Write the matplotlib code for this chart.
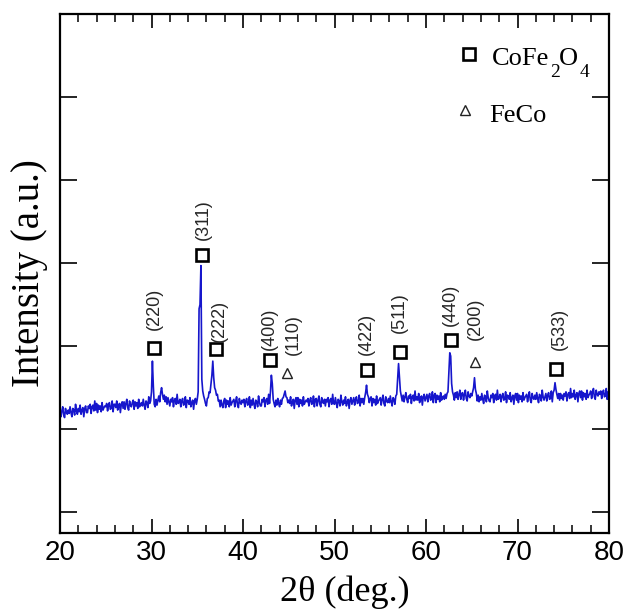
import numpy as np
import matplotlib
matplotlib.use("Agg")
import matplotlib.pyplot as plt

# ---------------- data ----------------
# XRD scan, 2theta from 20.0 to 80.0 deg in 0.1 deg steps
scan_rows = [
    [2.24, 2.15, 2.22, 2.27, 2.17, 2.14, 2.25, 2.20, 2.18, 2.23],  # 20
    [2.19, 2.27, 2.20, 2.15, 2.25, 2.23, 2.17, 2.30, 2.22, 2.18],  # 21
    [2.25, 2.21, 2.29, 2.18, 2.23, 2.26, 2.15, 2.25, 2.28, 2.20],  # 22
    [2.20, 2.28, 2.25, 2.30, 2.19, 2.27, 2.29, 2.22, 2.34, 2.23],  # 23
    [2.31, 2.20, 2.29, 2.24, 2.28, 2.21, 2.32, 2.23, 2.26, 2.28],  # 24
    [2.27, 2.31, 2.22, 2.29, 2.32, 2.24, 2.25, 2.34, 2.21, 2.30],  # 25
    [2.30, 2.26, 2.34, 2.23, 2.28, 2.31, 2.20, 2.30, 2.33, 2.25],  # 26
    [2.33, 2.24, 2.31, 2.36, 2.26, 2.23, 2.34, 2.29, 2.27, 2.32],  # 27
    [2.35, 2.24, 2.33, 2.28, 2.32, 2.25, 2.36, 2.27, 2.30, 2.32],  # 28
    [2.28, 2.36, 2.29, 2.24, 2.34, 2.32, 2.26, 2.39, 2.31, 2.34],  # 29
    [2.45, 2.82, 2.52, 2.30, 2.27, 2.36, 2.29, 2.35, 2.40, 2.33],  # 30
    [2.44, 2.50, 2.42, 2.36, 2.41, 2.33, 2.39, 2.30, 2.38, 2.33],  # 31
    [2.28, 2.36, 2.33, 2.38, 2.27, 2.35, 2.37, 2.30, 2.42, 2.31],  # 32
    [2.32, 2.36, 2.27, 2.34, 2.37, 2.29, 2.30, 2.39, 2.26, 2.35],  # 33
    [2.34, 2.30, 2.38, 2.27, 2.32, 2.35, 2.24, 2.34, 2.37, 2.30],  # 34
    [2.36, 2.45, 3.45, 3.50, 3.97, 2.60, 2.46, 2.40, 2.36, 2.31],  # 35
    [2.28, 2.37, 2.38, 2.45, 2.44, 2.54, 2.65, 2.82, 2.62, 2.50],  # 36
    [2.47, 2.41, 2.42, 2.34, 2.35, 2.27, 2.35, 2.29, 2.26, 2.34],  # 37
    [2.37, 2.26, 2.35, 2.30, 2.34, 2.27, 2.38, 2.29, 2.32, 2.34],  # 38
    [2.36, 2.27, 2.34, 2.39, 2.29, 2.26, 2.37, 2.32, 2.30, 2.35],  # 39
    [2.32, 2.36, 2.27, 2.34, 2.37, 2.29, 2.30, 2.39, 2.26, 2.35],  # 40
    [2.29, 2.37, 2.30, 2.25, 2.35, 2.33, 2.27, 2.40, 2.32, 2.28],  # 41
    [2.28, 2.36, 2.33, 2.38, 2.27, 2.35, 2.37, 2.30, 2.42, 2.31],  # 42
    [2.45, 2.65, 2.55, 2.36, 2.31, 2.27, 2.35, 2.29, 2.37, 2.31],  # 43
    [2.27, 2.35, 2.30, 2.37, 2.38, 2.42, 2.46, 2.39, 2.38, 2.32],  # 44
    [2.35, 2.31, 2.39, 2.28, 2.33, 2.36, 2.25, 2.35, 2.38, 2.30],  # 45
    [2.38, 2.27, 2.36, 2.31, 2.35, 2.28, 2.39, 2.30, 2.33, 2.35],  # 46
    [2.33, 2.37, 2.28, 2.35, 2.38, 2.30, 2.31, 2.40, 2.27, 2.36],  # 47
    [2.37, 2.28, 2.35, 2.40, 2.30, 2.27, 2.38, 2.33, 2.31, 2.36],  # 48
    [2.28, 2.36, 2.33, 2.38, 2.27, 2.35, 2.37, 2.30, 2.42, 2.31],  # 49
    [2.30, 2.38, 2.31, 2.26, 2.36, 2.34, 2.28, 2.41, 2.33, 2.29],  # 50
    [2.35, 2.31, 2.39, 2.28, 2.33, 2.36, 2.25, 2.35, 2.38, 2.30],  # 51
    [2.34, 2.38, 2.29, 2.36, 2.39, 2.31, 2.32, 2.41, 2.28, 2.37],  # 52
    [2.32, 2.37, 2.30, 2.38, 2.44, 2.53, 2.42, 2.39, 2.32, 2.37],  # 53
    [2.39, 2.28, 2.37, 2.32, 2.36, 2.29, 2.40, 2.31, 2.34, 2.36],  # 54
    [2.38, 2.29, 2.36, 2.41, 2.31, 2.28, 2.39, 2.34, 2.32, 2.37],  # 55
    [2.32, 2.40, 2.33, 2.28, 2.38, 2.36, 2.30, 2.40, 2.42, 2.60],  # 56
    [2.79, 2.62, 2.46, 2.40, 2.34, 2.41, 2.33, 2.39, 2.44, 2.36],  # 57
    [2.32, 2.40, 2.37, 2.42, 2.31, 2.39, 2.41, 2.34, 2.46, 2.35],  # 58
    [2.39, 2.35, 2.43, 2.32, 2.37, 2.40, 2.29, 2.39, 2.42, 2.34],  # 59
    [2.38, 2.42, 2.33, 2.40, 2.43, 2.35, 2.36, 2.45, 2.32, 2.41],  # 60
    [2.43, 2.32, 2.41, 2.36, 2.40, 2.33, 2.44, 2.35, 2.38, 2.40],  # 61
    [2.36, 2.42, 2.37, 2.43, 2.45, 2.70, 2.92, 2.88, 2.55, 2.45],  # 62
    [2.41, 2.35, 2.44, 2.38, 2.45, 2.36, 2.42, 2.47, 2.36, 2.43],  # 63
    [2.44, 2.35, 2.42, 2.47, 2.37, 2.34, 2.45, 2.40, 2.38, 2.43],  # 64
    [2.40, 2.45, 2.50, 2.62, 2.48, 2.43, 2.34, 2.41, 2.33, 2.39],  # 65
    [2.35, 2.43, 2.36, 2.31, 2.41, 2.39, 2.33, 2.46, 2.38, 2.34],  # 66
    [2.33, 2.41, 2.38, 2.43, 2.32, 2.40, 2.42, 2.35, 2.47, 2.36],  # 67
    [2.38, 2.42, 2.33, 2.40, 2.43, 2.35, 2.36, 2.45, 2.32, 2.41],  # 68
    [2.40, 2.36, 2.44, 2.33, 2.38, 2.41, 2.30, 2.40, 2.43, 2.35],  # 69
    [2.43, 2.32, 2.41, 2.36, 2.40, 2.33, 2.44, 2.35, 2.38, 2.40],  # 70
    [2.42, 2.33, 2.40, 2.45, 2.35, 2.32, 2.43, 2.38, 2.36, 2.41],  # 71
    [2.36, 2.44, 2.37, 2.32, 2.42, 2.40, 2.34, 2.47, 2.39, 2.35],  # 72
    [2.39, 2.43, 2.34, 2.41, 2.44, 2.36, 2.37, 2.46, 2.33, 2.44],  # 73
    [2.47, 2.56, 2.48, 2.42, 2.37, 2.43, 2.35, 2.43, 2.37, 2.41],  # 74
    [2.35, 2.43, 2.40, 2.45, 2.34, 2.42, 2.44, 2.37, 2.49, 2.38],  # 75
    [2.43, 2.39, 2.47, 2.36, 2.41, 2.44, 2.33, 2.43, 2.46, 2.38],  # 76
    [2.46, 2.35, 2.44, 2.39, 2.43, 2.36, 2.47, 2.38, 2.41, 2.43],  # 77
    [2.46, 2.37, 2.44, 2.49, 2.39, 2.36, 2.47, 2.42, 2.40, 2.45],  # 78
    [2.42, 2.46, 2.37, 2.44, 2.47, 2.39, 2.40, 2.49, 2.36, 2.45],  # 79
    [2.42],                                                        # 80.0
]
intensity = [v for row in scan_rows for v in row]
two_theta = np.round(np.linspace(20.0, 80.0, len(intensity)), 1)

# CoFe2O4 reflections: label, marker position (x, y), label anchor (x, y bottom)
spinel_hkl = ["(220)", "(311)", "(222)", "(400)", "(422)", "(511)", "(440)", "(533)"]
spinel_mark_x = [30.3, 35.5, 37.1, 42.9, 53.6, 57.2, 62.7, 74.2]
spinel_mark_y = [2.98, 4.10, 2.97, 2.83, 2.71, 2.93, 3.07, 2.72]
spinel_lab_x = [30.27, 35.66, 37.41, 42.92, 53.52, 57.10, 62.62, 74.57]
spinel_lab_y = [3.20, 4.28, 3.05, 2.95, 2.89, 3.16, 3.24, 2.95]

# FeCo reflections
feco_hkl = ["(110)", "(200)"]
feco_mark_x = [44.86, 65.36]
feco_mark_y = [2.68, 2.81]
feco_lab_x = [45.5, 65.43]
feco_lab_y = [2.89, 3.08]

x_ticks = [20, 30, 40, 50, 60, 70, 80]
y_ticks = [1, 2, 3, 4, 5, 6]

# ---------------- style ----------------
fig = plt.figure(figsize=(6.27, 6.10), dpi=100)
ax = fig.add_axes([60 / 627, 77 / 610, 549 / 627, 519 / 610])

ax.plot(two_theta, intensity, color="#1616CC", lw=1.2, zorder=2)

ax.set_xlim(20, 80)
ax.set_ylim(0.75, 7.0)
ax.set_xticks(x_ticks)
ax.set_xticks(np.arange(22, 80, 2), minor=True)
ax.set_yticks(y_ticks)
ax.set_yticklabels([])

for s in ax.spines.values():
    s.set_linewidth(1.6)
    s.set_color("black")

ax.tick_params(axis="x", which="major", direction="in", length=10, width=1.2,
               top=True, bottom=True, pad=5, labelsize=20)
ax.tick_params(axis="x", which="minor", direction="in", length=6, width=1.1,
               top=True, bottom=True)
ax.tick_params(axis="y", which="major", direction="in", length=12, width=1.2,
               left=True, right=True)
for lab in ax.get_xticklabels():
    lab.set_fontfamily("Liberation Sans")

ax.set_xlabel("2θ (deg.)", fontfamily="Liberation Serif", fontsize=26)
ax.xaxis.set_label_coords(0.519, -0.081)
ax.xaxis.label.set_va("top")
ax.set_ylabel("Intensity (a.u.)", fontfamily="Liberation Serif", fontsize=28)
ax.yaxis.set_label_coords(-0.021, 0.5)

# markers
ax.plot(spinel_mark_x, spinel_mark_y, ls="none", marker="s", ms=8.5,
        mfc="white", mec="black", mew=1.9, zorder=3)
ax.plot(feco_mark_x, feco_mark_y, ls="none", marker="^", ms=7.5,
        mfc="none", mec="#222222", mew=1.0, zorder=3)

for t, x, y in zip(spinel_hkl + feco_hkl, spinel_lab_x + feco_lab_x, spinel_lab_y + feco_lab_y):
    ax.text(x, y, t, rotation=90, ha="center", va="bottom", fontsize=13,
            fontfamily="Liberation Sans", color="#262626", zorder=4)

# legend (drawn as marker + text pieces, subscripts set lower and smaller)
def ax_frac(px, py):
    return ((px - 60) / 549, (533 - py) / 519)

ax.plot(*ax_frac(469, 54), transform=ax.transAxes, ls="none", marker="s", ms=8.5,
        mfc="white", mec="black", mew=1.9, clip_on=False)
legend_pieces = [("CoFe", 492, 65, 19), ("2", 550, 77, 14), ("O", 559, 65, 19), ("4", 580, 77, 14)]
for txt, px, py, fs in legend_pieces:
    ax.text(*ax_frac(px, py), txt, transform=ax.transAxes, ha="left", va="baseline",
            fontsize=fs, fontfamily="Liberation Serif")
ax.plot(*ax_frac(465, 110), transform=ax.transAxes, ls="none", marker="^", ms=7,
        mfc="none", mec="#222222", mew=1.0, clip_on=False)
ax.text(*ax_frac(489, 122), "FeCo", transform=ax.transAxes, ha="left", va="baseline",
        fontsize=19, fontfamily="Liberation Serif")

fig.savefig("out.png", dpi=100)
